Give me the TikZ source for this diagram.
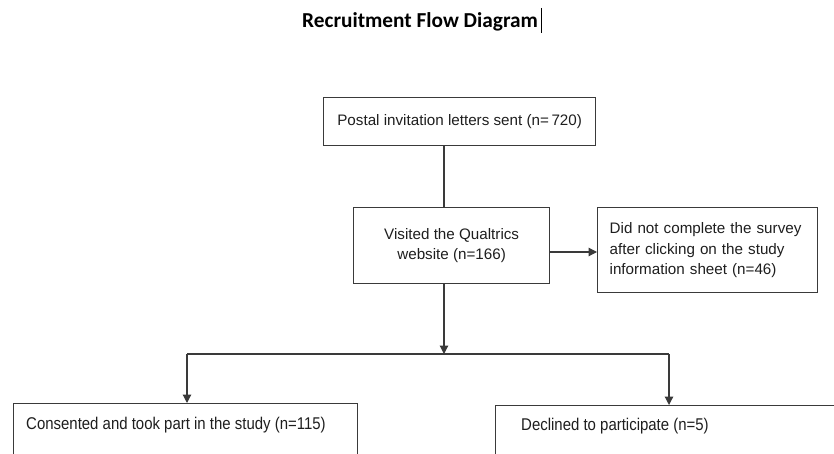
\documentclass[tikz,border=0pt]{standalone}
\usepackage{fontspec}
\setmainfont{Liberation Sans}
\newfontfamily\titlefont{Carlito}
\newfontfamily\narrowfont{Liberation Sans}[FakeStretch=0.88]
\usetikzlibrary{arrows.meta}
\definecolor{linegray}{HTML}{3A3A3A}
\definecolor{txt}{HTML}{1E1E1E}
\tikzset{
  box/.style={draw=linegray, line width=1.3pt, rectangle, inner sep=0pt, text=txt},
  boxtext/.style={font=\fontsize{15.2}{20.5}\selectfont, text=txt},
  lowtext/.style={font=\narrowfont\fontsize{17}{21}\selectfont, text=txt, inner sep=0pt, anchor=west},
  conn/.style={draw=linegray, line width=1.2pt},
  arrow/.style={conn, -{Triangle[length=8.5pt,width=8.5pt]}},
}
\begin{document}
\begin{tikzpicture}[x=1pt,y=-1pt]
\useasboundingbox (0,0) rectangle (834,454);
\clip (0,0) rectangle (834,454);
% title
\node[font=\titlefont\bfseries\fontsize{21.3}{24}\selectfont, text=black, anchor=base west, inner sep=0pt] (title) at (302,28) {Recruitment Flow Diagram};
\draw[black, line width=0.8pt] ([xshift=3pt]title.base east |- 0,8) coordinate (cur) -- (cur |- 0,33);
% boxes
\node[box, boxtext, anchor=north west, minimum width=272, minimum height=48] (b1) at (323,97) {Postal invitation letters sent (n=\,720)};
\node[box, boxtext, anchor=north west, minimum width=196, minimum height=76, align=center] (b2) at (353,207) {Visited the Qualtrics\\website (n=166)};
\node[box, boxtext, anchor=north west, minimum width=220, minimum height=85, text width=196, inner xsep=12pt, align=left] (b3) at (597,207) {Did not complete the survey after clicking on the study information sheet (n=46)};
\node[box, anchor=north west, minimum width=344, minimum height=120] (b4) at (13,403) {};
\node[box, anchor=north west, minimum width=400, minimum height=120] (b5) at (495,405) {};
\node[lowtext] (t4) at (26,425) {Consented and took part in the study (n=115)};
\node[lowtext] (t5) at (521,426) {Declined to participate (n=5)};
% connectors
\coordinate (cx) at (444,0);
\coordinate (cy) at (0,252);
\coordinate (j) at (444,354);
\coordinate (jl) at (187,354);
\coordinate (jr) at (669,354);
\draw[conn] (b1.south -| cx) -- (b2.north -| cx);
\draw[arrow] (b2.east |- cy) -- (b3.west |- cy);
\draw[arrow] (b2.south -| cx) -- (j);
\draw[conn] (jl) -- (jr);
\draw[arrow] (jl) -- (b4.north -| jl);
\draw[arrow] (jr) -- (b5.north -| jr);
\end{tikzpicture}
\end{document}
